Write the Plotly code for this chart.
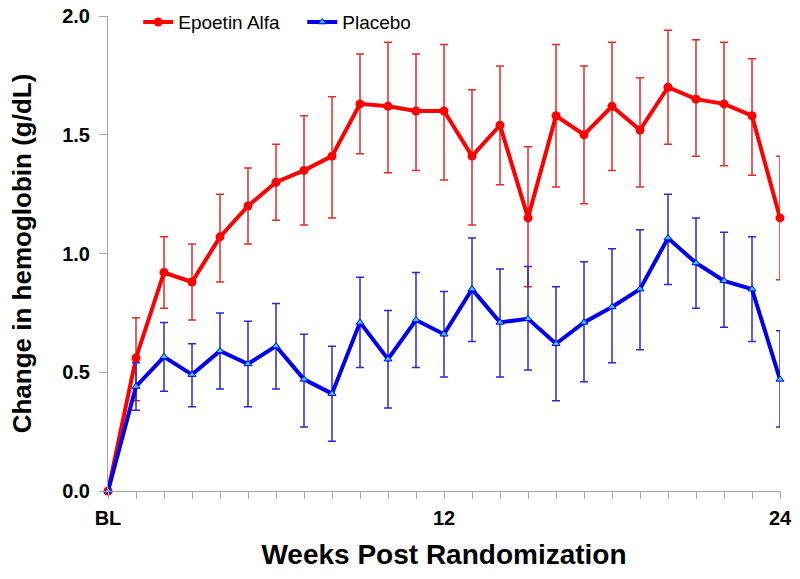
import plotly.graph_objects as go

weeks = list(range(0, 25))
tick_labels = ["BL" if w == 0 else ("12" if w == 12 else ("24" if w == 24 else "")) for w in weeks]

epo_mean = [0.0, 0.56, 0.92, 0.88, 1.07, 1.20, 1.30, 1.35, 1.41, 1.63, 1.62, 1.60, 1.60,
            1.41, 1.54, 1.15, 1.58, 1.50, 1.62, 1.52, 1.70, 1.65, 1.63, 1.58, 1.15]
epo_upper = [0.0, 0.73, 1.07, 1.04, 1.25, 1.36, 1.46, 1.58, 1.66, 1.84, 1.89, 1.84, 1.88,
             1.69, 1.79, 1.45, 1.88, 1.79, 1.89, 1.74, 1.94, 1.90, 1.89, 1.82, 1.41]
epo_lower = [0.0, 0.38, 0.77, 0.72, 0.88, 1.04, 1.14, 1.12, 1.15, 1.42, 1.34, 1.35, 1.31,
             1.12, 1.29, 0.86, 1.28, 1.21, 1.35, 1.28, 1.46, 1.41, 1.37, 1.33, 0.89]

pla_mean = [0.0, 0.44, 0.565, 0.49, 0.59, 0.535, 0.61, 0.47, 0.41, 0.71, 0.555, 0.72, 0.66,
            0.85, 0.71, 0.725, 0.62, 0.71, 0.775, 0.85, 1.065, 0.96, 0.885, 0.85, 0.47]
pla_upper = [0.0, 0.54, 0.71, 0.62, 0.75, 0.715, 0.79, 0.66, 0.61, 0.90, 0.76, 0.92, 0.84,
             1.065, 0.935, 0.945, 0.86, 0.965, 1.02, 1.10, 1.25, 1.15, 1.09, 1.07, 0.675]
pla_lower = [0.0, 0.34, 0.42, 0.355, 0.43, 0.355, 0.43, 0.27, 0.21, 0.52, 0.35, 0.52, 0.48,
             0.63, 0.48, 0.51, 0.38, 0.46, 0.54, 0.595, 0.87, 0.77, 0.69, 0.63, 0.27]

def plus(m, u):
    return [a - b for a, b in zip(u, m)]

def minus(m, l):
    return [a - b for a, b in zip(m, l)]

fig = go.Figure()
fig.add_trace(go.Scatter(
    x=weeks, y=epo_mean, mode="lines+markers", name="Epoetin Alfa",
    line=dict(color="#ff0000", width=4),
    marker=dict(symbol="circle", size=9, color="#ff0000"),
    error_y=dict(type="data", symmetric=False, array=plus(epo_mean, epo_upper),
                 arrayminus=minus(epo_mean, epo_lower), color="#e52a2a", thickness=1.5, width=4),
    cliponaxis=False,
))
fig.add_trace(go.Scatter(
    x=weeks, y=pla_mean, mode="lines+markers", name="Placebo",
    line=dict(color="#0000ee", width=4),
    marker=dict(symbol="triangle-up", size=7, color="#33ccff", line=dict(color="#0000ee", width=1)),
    error_y=dict(type="data", symmetric=False, array=plus(pla_mean, pla_upper),
                 arrayminus=minus(pla_mean, pla_lower), color="#2a2ad0", thickness=1.5, width=4),
    cliponaxis=False,
))

tick_font = dict(family="Liberation Sans, Arial", size=20, color="black")

fig.update_layout(
    width=800, height=579,
    margin=dict(l=108, r=20, t=16, b=88, autoexpand=False),
    paper_bgcolor="white", plot_bgcolor="white",
    showlegend=True,
    legend=dict(orientation="h", x=0.045, y=0.987, xanchor="left", yanchor="middle",
                font=dict(family="Liberation Sans, Arial", size=19, color="black"),
                bgcolor="rgba(0,0,0,0)", entrywidth=119, entrywidthmode="pixels"),
    xaxis=dict(
        range=[0, 24], tickmode="array", tickvals=weeks,
        ticktext=["<b>%s</b>" % t if t else "" for t in tick_labels],
        showgrid=False, zeroline=False, showline=True, linecolor="#a6a6a6", linewidth=1,
        ticks="outside", ticklen=7, tickcolor="#a6a6a6", tickwidth=1,
        tickfont=tick_font, ticklabelstandoff=2, ticklabeloverflow="allow",
        title=dict(text="<b>Weeks Post Randomization</b>",
                   font=dict(family="Liberation Sans, Arial", size=28, color="black"), standoff=16),
    ),
    yaxis=dict(
        range=[0, 2], tickmode="array", tickvals=[0, 0.5, 1.0, 1.5, 2.0],
        ticktext=["<b>0.0</b>", "<b>0.5</b>", "<b>1.0</b>", "<b>1.5</b>", "<b>2.0</b>"],
        showgrid=False, zeroline=False, showline=True, linecolor="#a6a6a6", linewidth=1,
        ticks="outside", ticklen=8, tickcolor="#a6a6a6", tickwidth=1,
        tickfont=tick_font, ticklabelstandoff=5, ticklabeloverflow="allow",
        title=dict(text="<b>Change in hemoglobin (g/dL)</b>",
                   font=dict(family="Liberation Sans, Arial", size=26, color="black"), standoff=23),
    ),
)

fig.write_html("out.html", config={"displayModeBar": False},
               post_script="document.body.style.margin='0';")
